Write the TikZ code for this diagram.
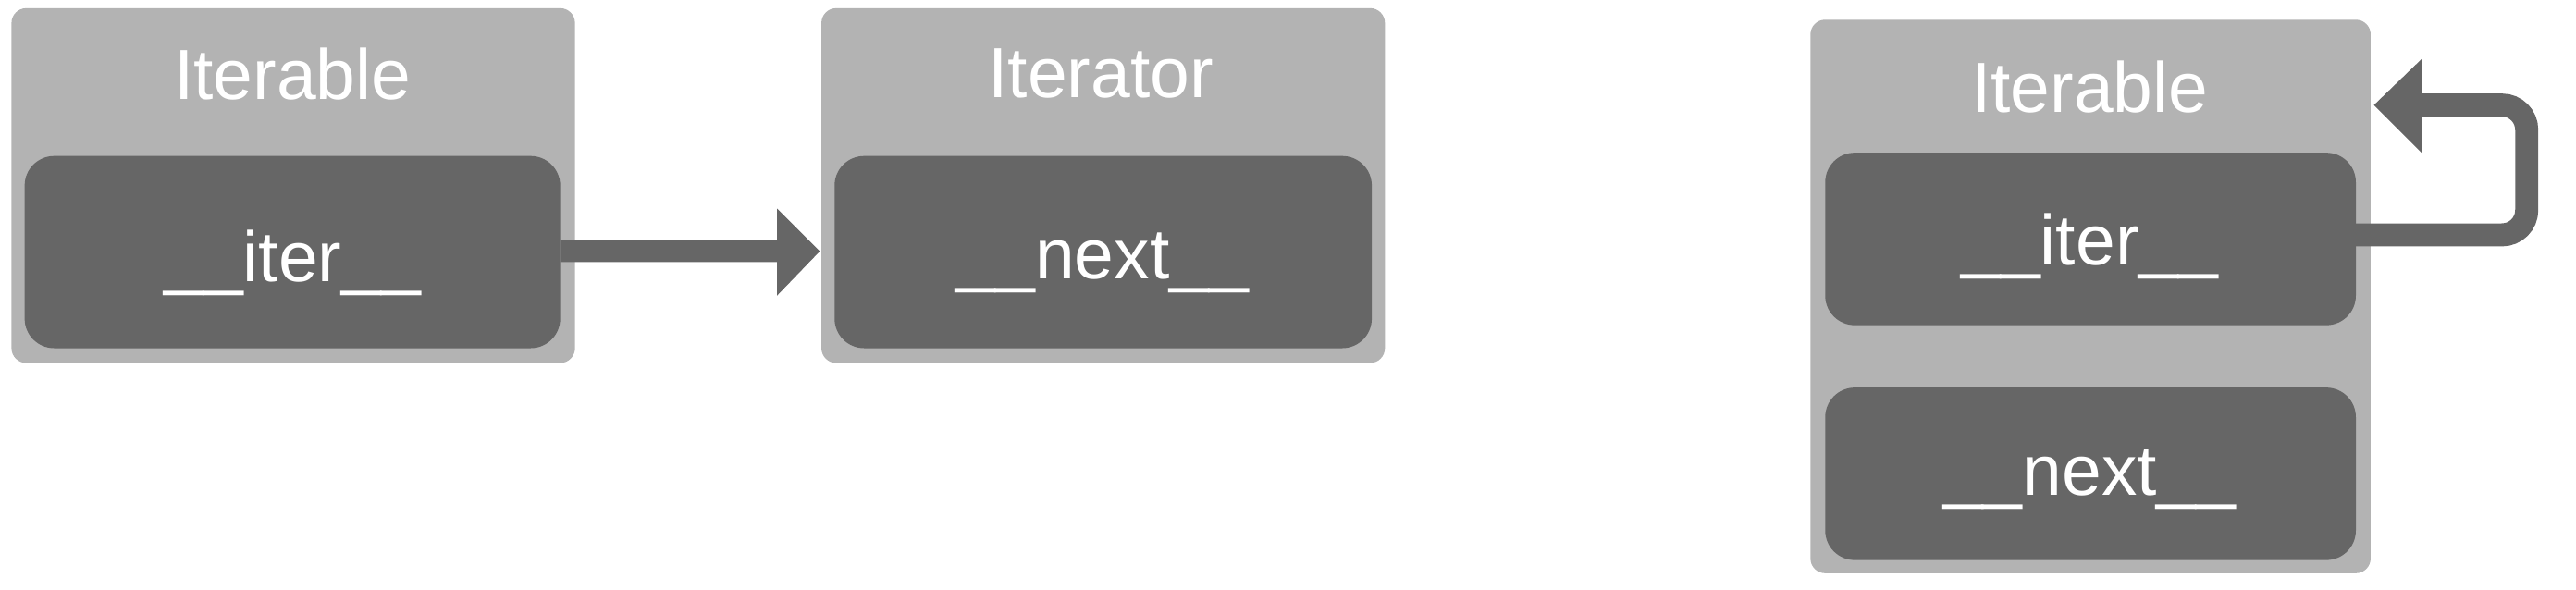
\documentclass[tikz,border=0pt]{standalone}
\usepackage{fontspec}
\setmainfont{Liberation Sans}
\usetikzlibrary{positioning}
\definecolor{lg}{HTML}{B3B3B3}
\definecolor{dg}{HTML}{666666}
\begin{document}
\begin{tikzpicture}[x=0.01cm,y=-0.01cm,
  outerbox/.style={fill=lg,rounded corners=0.09cm,inner sep=0},
  innerbox/.style={fill=dg,rounded corners=0.18cm,inner sep=0},
  lbl/.style={text=white,font=\fontsize{12.3pt}{14pt}\selectfont,inner sep=0}]
\useasboundingbox (0,0) rectangle (1568,359);
% box 1
\path[outerbox] (7,5) rectangle (350,221);
\coordinate (o1) at (178,113);
\path[innerbox] (15,95) rectangle (341,212);
\coordinate (i1r) at (341,153);
\node[lbl] (t1) at (178,45) {Iterable};
\node[lbl] (m1) at (178,160) {\_\_iter\_\_};
% box 2
\path[outerbox] (500,5) rectangle (843,221);
\path[innerbox] (508,95) rectangle (835,212);
\coordinate (i2l) at (499,153);
\node[lbl] (t2) at (670,45) {Iterator};
\node[lbl] (m2) at (671,160) {\_\_next\_\_};
% arrow 1
\fill[dg] (i1r) ++(0,-6.5) -- (473,146.5) -- (473,127) -- (i2l) -- (473,180) -- (473,159.5) -- (341,159.5) -- cycle;
% box 3
\path[outerbox] (1102,12) rectangle (1443,349);
\path[innerbox] (1111,93) rectangle (1434,198);
\path[innerbox] (1111,236) rectangle (1434,341);
\node[lbl] (t3) at (1272,53) {Iterable};
\node[lbl] (m3) at (1272,150) {\_\_iter\_\_};
\node[lbl] (m4) at (1272,292) {\_\_next\_\_};
\coordinate (ls) at (1434,143);
\coordinate (le) at (1474,64);
\draw[dg,line width=0.14cm,rounded corners=0.15cm] (ls) -- (1538,143) -- (1538,64) -- (le);
\coordinate (tip) at (1445,64);
\fill[dg] (tip) -- (1474,36) -- (1474,93) -- cycle;
\end{tikzpicture}
\end{document}
